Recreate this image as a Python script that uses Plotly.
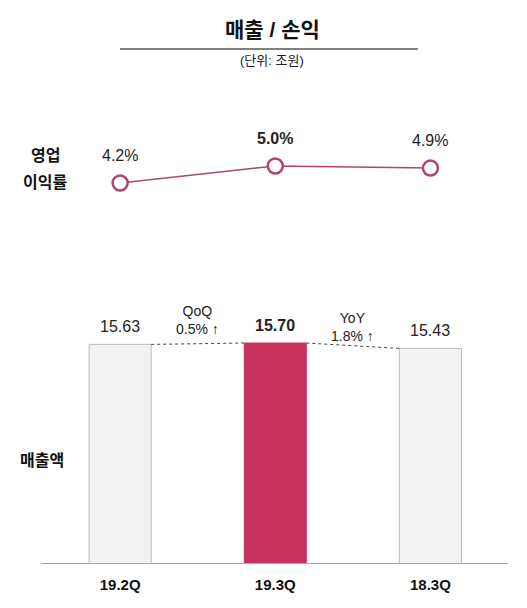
import plotly.graph_objects as go

quarters = ["19.2Q", "19.3Q", "18.3Q"]
sales = [15.63, 15.70, 15.43]
margin_pct = [4.2, 5.0, 4.9]
highlight = "19.3Q"
changes = [("QoQ", "0.5% ↑"), ("YoY", "1.8% ↑")]

FONT = "Liberation Sans, Arial, Noto Sans CJK KR"
PINK = "#C8325F"
LINE = "#B0446F"

xs = list(range(len(quarters)))
bar_w = 0.4
colors = [PINK if q == highlight else "#F2F2F2" for q in quarters]
borders = [PINK if q == highlight else "#BDBDBD" for q in quarters]

fig = go.Figure()

fig.add_trace(go.Bar(
    x=xs, y=sales, width=bar_w,
    marker=dict(color=colors, line=dict(color=borders, width=1)),
    xaxis="x", yaxis="y", hoverinfo="skip", showlegend=False,
))

# dashed connectors between bar tops + change labels
for i, (a, b) in enumerate([(0, 1), (1, 2)]):
    fig.add_trace(go.Scatter(
        x=[xs[a] + bar_w / 2, xs[b] - bar_w / 2], y=[sales[a], sales[b]],
        mode="lines", line=dict(color="#444", width=1, dash="dot"),
        xaxis="x", yaxis="y", hoverinfo="skip", showlegend=False,
    ))
    mid = (sales[a] + sales[b]) / 2
    fig.add_annotation(
        x=(xs[a] + xs[b]) / 2, y=mid, xref="x", yref="y",
        text=changes[i][0] + "<br>" + changes[i][1],
        showarrow=False, yanchor="bottom", yshift=5 if i == 0 else 0,
        font=dict(family=FONT, size=14, color="#222"),
    )

for x, v, q in zip(xs, sales, quarters):
    t = f"{v:.2f}"
    if q == highlight:
        t = "<b>" + t + "</b>"
    fig.add_annotation(
        x=x, y=v, xref="x", yref="y", text=t, showarrow=False,
        yanchor="bottom", yshift=7, font=dict(family=FONT, size=16, color="#222"),
    )

fig.add_trace(go.Scatter(
    x=xs, y=margin_pct, mode="lines+markers",
    line=dict(color=LINE, width=1.5),
    marker=dict(symbol="circle", size=15, color="white", line=dict(color=LINE, width=2.5)),
    xaxis="x2", yaxis="y2", hoverinfo="skip", showlegend=False,
))

for x, v, q in zip(xs, margin_pct, quarters):
    t = f"{v:.1f}%"
    if q == highlight:
        t = "<b>" + t + "</b>"
    fig.add_annotation(
        x=x, y=v, xref="x2", yref="y2", text=t, showarrow=False,
        yanchor="bottom", yshift=17, font=dict(family=FONT, size=16, color="#222"),
    )

# titles and row labels
def label(x, y, text, size):
    fig.add_annotation(x=x, y=y, xref="paper", yref="paper", text=text, showarrow=False,
                       xanchor="center", yanchor="middle",
                       font=dict(family=FONT, size=size, color="#111"))

label(0.495, 0.961, "<b>매출 / 손익</b>", 21)
label(0.495, 0.906, "<span style='color:#222'>(단위: 조원)</span>", 13)
label(0.009, 0.735, "<b>영업</b>", 16)
label(0.009, 0.686, "<b>이익률</b>", 16)
label(0.002, 0.184, "<b>매출액</b>", 16)
fig.add_shape(type="line", xref="paper", yref="paper", x0=0.169, x1=0.807, y0=0.926, y1=0.926,
              line=dict(color="#555", width=1.5))

fig.update_layout(
    width=519, height=600,
    margin=dict(l=33, r=19, t=0, b=45),
    paper_bgcolor="white", plot_bgcolor="white",
    xaxis=dict(range=[-0.51, 2.5], tickvals=xs, ticktext=["<b>" + q + "</b>" for q in quarters],
               showline=True, linecolor="#A6A6A6", linewidth=1, showgrid=False, zeroline=False,
               ticks="", ticklabelstandoff=8, tickfont=dict(family=FONT, size=15, color="#111"),
               anchor="y"),
    yaxis=dict(domain=[0, 0.5], range=[4.7, 18.575], visible=False, showgrid=False),
    xaxis2=dict(range=[-0.51, 2.5], visible=False, anchor="y2"),
    yaxis2=dict(domain=[0.6, 1.0], range=[1.988, 12.435], visible=False, showgrid=False),
)

fig.write_html("out.html")
